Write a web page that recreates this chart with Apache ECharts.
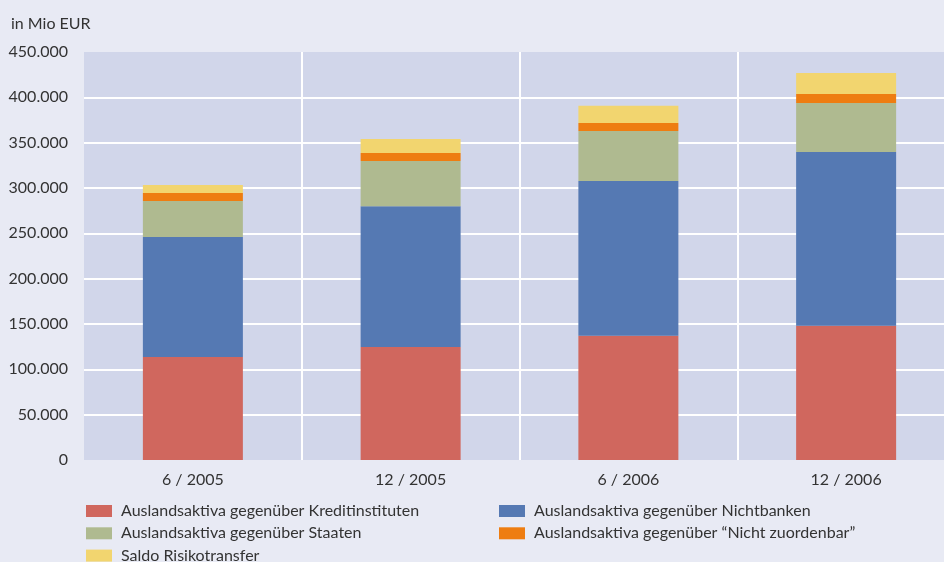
<!DOCTYPE html>
<html>
<head>
<meta charset="utf-8">
<script src="https://cdn.jsdelivr.net/npm/echarts@6/dist/echarts.min.js"></script>
<style>
  html, body { margin: 0; padding: 0; background: #E8EAF4; }
  #chart { width: 944px; height: 562px; }
</style>
</head>
<body>
<div id="chart"></div>
<script>
// Data (in Mio EUR)
const categories = ['6 / 2005', '12 / 2005', '6 / 2006', '12 / 2006'];
const kreditinstitute = [113600, 124600, 137000, 148100];
const nichtbanken = [132400, 155400, 170700, 191600];
const staaten = [39700, 49800, 55200, 54000];
const nichtZuordenbar = [8800, 8800, 8800, 10000];
const risikotransfer = [8800, 15400, 19100, 23100];

const seriesNames = [
  'Auslandsaktiva gegenüber Kreditinstituten',
  'Auslandsaktiva gegenüber Nichtbanken',
  'Auslandsaktiva gegenüber Staaten',
  'Auslandsaktiva gegenüber “Nicht zuordenbar”',
  'Saldo Risikotransfer'
];
const seriesData = [kreditinstitute, nichtbanken, staaten, nichtZuordenbar, risikotransfer];
const colors = ['#D0675E', '#5579B3', '#AFBA90', '#EE7D11', '#F2D56F'];

const font = 'Lato';
const textColor = '#333333';

// Init chart
const chart = echarts.init(document.getElementById('chart'));

const legendCommon = {
  orient: 'vertical',
  padding: 0,
  height: 90,
  itemWidth: 26,
  itemHeight: 12,
  itemGap: 6.3,
  icon: 'rect',
  textStyle: { color: textColor, fontFamily: font, fontSize: 16, lineHeight: 16, padding: [0, 0, 0, 4] }
};

const options = {
  backgroundColor: '#E8EAF4',
  animation: false,
  color: colors,
  title: {
    text: 'in Mio EUR',
    left: 6,
    top: 11,
    textStyle: { color: textColor, fontFamily: font, fontSize: 16, fontWeight: 'normal' }
  },
  legend: [
    Object.assign({}, legendCommon, { left: 86, top: 503, data: [seriesNames[0], seriesNames[2], seriesNames[4]] }),
    Object.assign({}, legendCommon, { left: 499, top: 503, data: [seriesNames[1], seriesNames[3]] })
  ],
  grid: {
    left: 84,
    top: 52,
    right: -11,
    height: 408,
    outerBoundsMode: 'none',
    show: true,
    backgroundColor: '#D1D6EA',
    borderWidth: 0
  },
  xAxis: {
    type: 'category',
    data: categories,
    axisLine: { show: false },
    axisTick: { show: false },
    axisLabel: { color: textColor, fontFamily: font, fontSize: 16, margin: 12 },
    splitLine: {
      show: true,
      showMinLine: false,
      lineStyle: { color: '#FFFFFF', width: 2 }
    }
  },
  yAxis: {
    type: 'value',
    min: 0,
    max: 450000,
    interval: 50000,
    axisLine: { show: false },
    axisTick: { show: false },
    axisLabel: {
      color: textColor,
      fontFamily: font,
      fontSize: 16,
      margin: 16,
      formatter: v => v === 0 ? '0' : v.toLocaleString('de-DE')
    },
    splitLine: {
      show: true,
      showMinLine: false,
      showMaxLine: false,
      lineStyle: { color: '#FFFFFF', width: 2 }
    }
  },
  series: seriesNames.map((name, i) => ({
    name: name,
    type: 'bar',
    stack: 'total',
    barWidth: 100,
    data: seriesData[i]
  }))
};

chart.setOption(options);
</script>
</body>
</html>
